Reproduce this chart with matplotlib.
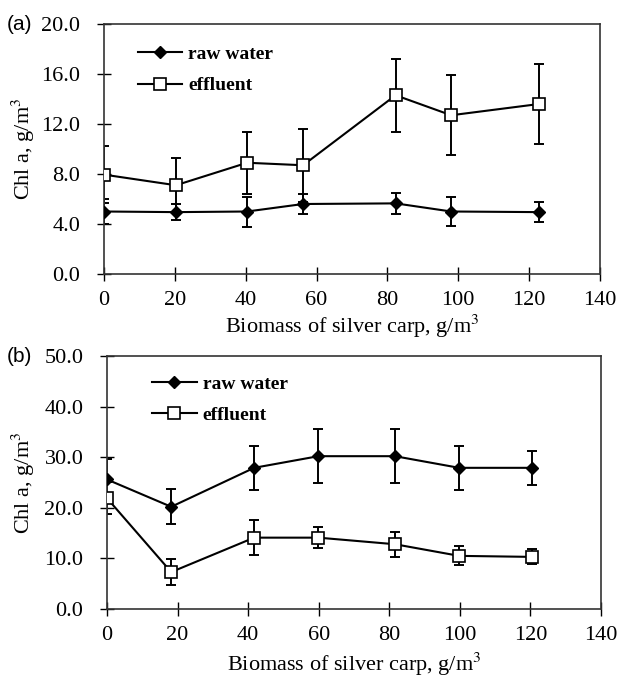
import matplotlib
matplotlib.use("Agg")
import matplotlib.pyplot as plt
from matplotlib.lines import Line2D

plt.rcParams['font.family'] = ['Liberation Serif', 'DejaVu Serif']
plt.rcParams['mathtext.fontset'] = 'stix'

# panel (a) data
biomass_a = [0, 20.3, 40.4, 56.2, 82.3, 98.0, 122.8]
raw_a = [5.0, 4.95, 5.0, 5.6, 5.65, 5.0, 4.95]
raw_err_a = [1.0, 0.65, 1.2, 0.8, 0.85, 1.15, 0.8]
eff_a = [7.95, 7.1, 8.9, 8.7, 14.3, 12.7, 13.6]
eff_err_a = [2.3, 2.2, 2.5, 2.9, 2.9, 3.2, 3.2]

# panel (b) data
biomass_b = [0, 18.2, 41.7, 59.9, 81.6, 99.8, 120.4]
raw_b = [25.6, 20.2, 27.9, 30.2, 30.2, 27.9, 27.9]
raw_err_b = [4.1, 3.5, 4.4, 5.3, 5.3, 4.4, 3.4]
eff_b = [21.9, 7.3, 14.1, 14.1, 12.8, 10.5, 10.3]
eff_err_b = [3.2, 2.5, 3.5, 2.1, 2.5, 1.9, 1.5]

xticks = [0, 20, 40, 60, 80, 100, 120, 140]
yticks_a = [0, 4, 8, 12, 16, 20]
yticks_b = [0, 10, 20, 30, 40, 50]

fig = plt.figure(figsize=(6.18, 6.77), dpi=100)
ax1 = fig.add_axes([104/618, 1-274/677, 496/618, 250/677])
ax2 = fig.add_axes([107/618, 1-609/677, 494/618, 253/677])


def draw_panel(ax, x, raw, raw_err, eff, eff_err, yticks, tag, tag_x,
               leg_xy, ylab_x, xlab_pad):
    ax.errorbar(x, raw, yerr=raw_err, fmt='none', ecolor='black',
                elinewidth=1.4, capsize=3.6, capthick=1.4, zorder=2)
    ax.errorbar(x, eff, yerr=eff_err, fmt='none', ecolor='black',
                elinewidth=1.4, capsize=3.6, capthick=1.4, zorder=2)
    ax.plot(x, raw, color='black', lw=1.5, marker='D', ms=6.2,
            mfc='black', mec='black', zorder=3)
    ax.plot(x, eff, color='black', lw=1.5, marker='s', ms=8.2,
            mfc='white', mec='black', mew=1.2, zorder=4)

    ax.set_xlim(0, 140)
    ax.set_ylim(yticks[0], yticks[-1])
    ax.set_xticks(xticks)
    ax.set_yticks(yticks)
    ax.set_yticklabels(['%.1f' % v for v in yticks])
    ax.tick_params(direction='inout', length=10, width=1.0, labelsize=16,
                   colors='black')
    ax.tick_params(axis='y', pad=12)
    ax.tick_params(axis='x', pad=7)
    for s in ax.spines.values():
        s.set_linewidth(1.2)
        s.set_color('#333333')

    ax.set_xlabel('Biomass of silver carp, g/m$^3$', fontsize=16,
                  labelpad=xlab_pad)
    ax.set_ylabel('Chl a, g/m$^3$', fontsize=16)
    ax.yaxis.set_label_coords(ylab_x, 0.5)

    handles = [
        Line2D([], [], color='black', lw=1.5, marker='D', ms=6.2, mfc='black'),
        Line2D([], [], color='black', lw=1.5, marker='s', ms=8.2, mfc='white',
               mec='black', mew=1.2),
    ]
    ax.legend(handles, ['raw water', 'effluent'], loc='upper left',
              bbox_to_anchor=leg_xy, frameon=False, borderpad=0,
              borderaxespad=0, handlelength=2.3, handletextpad=0.3,
              labelspacing=0.72, prop={'weight': 'bold', 'size': 14})

    ax.text(tag_x, 1.0, tag, transform=ax.transAxes, fontsize=15,
            family='Liberation Sans', ha='left', va='center')


draw_panel(ax1, biomass_a, raw_a, raw_err_a, eff_a, eff_err_a, yticks_a,
           '(a)', -0.196, (0.068, 0.915), -0.135, 2)
draw_panel(ax2, biomass_b, raw_b, raw_err_b, eff_b, eff_err_b, yticks_b,
           '(b)', -0.202, (0.091, 0.925), -0.141, 4.5)

fig.savefig('out.png', dpi=100)
